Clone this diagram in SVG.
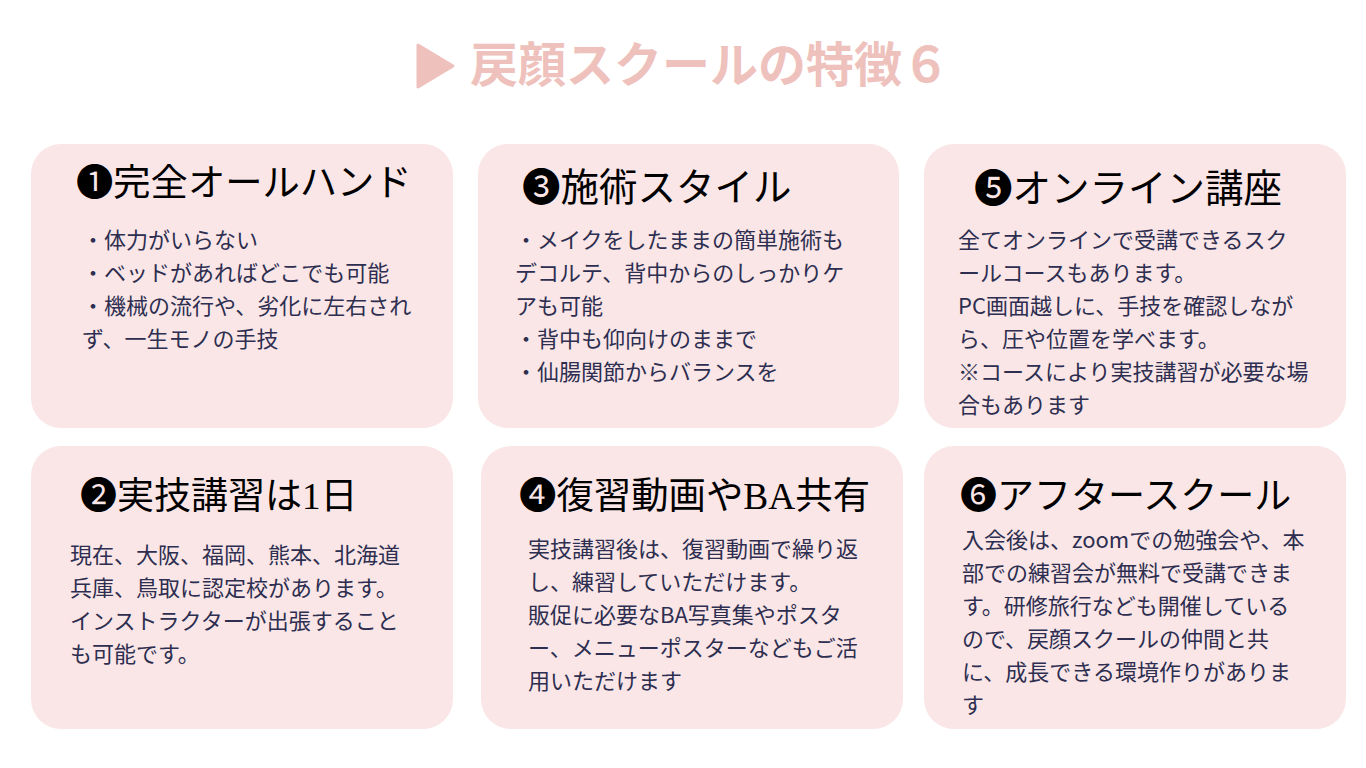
<svg xmlns="http://www.w3.org/2000/svg" width="1366" height="768" viewBox="0 0 1366 768">
<style>
.card{fill:#FAE6E7;}
.hd{font-family:"Liberation Serif","Noto Sans CJK JP",serif;font-size:37px;fill:#000000;}
.hd2{font-size:38.5px;}
.bd{font-family:"Noto Sans CJK JP","Noto Sans",sans-serif;font-size:22px;fill:#2D2E50;}
.ttl{font-family:"Noto Sans CJK JP",sans-serif;font-size:48px;font-weight:bold;fill:#EEC1BC;}
</style>
<rect width="1366" height="768" fill="#FFFFFF"/>
<g id="title">
<polygon points="418,45 453,66 418,87" fill="#EEC1BC" stroke="#EEC1BC" stroke-width="3" stroke-linejoin="round"/>
<text class="ttl" x="470" y="82">戻顔スクールの特徴６</text>
</g>
<g id="card1">
<rect class="card" x="31" y="144" width="422" height="284" rx="30"/>
<text class="hd" x="76" y="196" style="font-size:37.3px">❶完全オールハンド</text>
<text class="bd" x="82" y="248">・体力がいらない</text>
<text class="bd" x="82" y="281">・ベッドがあればどこでも可能</text>
<text class="bd" x="82" y="314">・機械の流行や、劣化に左右され</text>
<text class="bd" x="82" y="347">ず、一生モノの手技</text>
</g>
<g id="card3">
<rect class="card" x="478" y="144" width="421" height="284" rx="30"/>
<text class="hd hd2" x="522" y="201">❸施術スタイル</text>
<text class="bd" x="515" y="248">・メイクをしたままの簡単施術も</text>
<text class="bd" x="515" y="281">デコルテ、背中からのしっかりケ</text>
<text class="bd" x="515" y="314">アも可能</text>
<text class="bd" x="515" y="347">・背中も仰向けのままで</text>
<text class="bd" x="515" y="380">・仙腸関節からバランスを</text>
</g>
<g id="card5">
<rect class="card" x="924" y="144" width="422" height="284" rx="30"/>
<text class="hd hd2" x="974" y="202">❺オンライン講座</text>
<text class="bd" x="958" y="248">全てオンラインで受講できるスク</text>
<text class="bd" x="958" y="281">ールコースもあります。</text>
<text class="bd" x="958" y="314">PC画面越しに、手技を確認しなが</text>
<text class="bd" x="958" y="347">ら、圧や位置を学べます。</text>
<text class="bd" x="958" y="380">※コースにより実技講習が必要な場</text>
<text class="bd" x="958" y="413">合もあります</text>
</g>
<g id="card2">
<rect class="card" x="31" y="446" width="422" height="283" rx="30"/>
<text class="hd" x="80" y="509">❷実技講習は1日</text>
<text class="bd" x="70" y="563">現在、大阪、福岡、熊本、北海道</text>
<text class="bd" x="70" y="596">兵庫、鳥取に認定校があります。</text>
<text class="bd" x="70" y="629">インストラクターが出張すること</text>
<text class="bd" x="70" y="662">も可能です。</text>
</g>
<g id="card4">
<rect class="card" x="481" y="446" width="422" height="283" rx="30"/>
<text class="hd" x="519" y="509" style="font-size:37.4px">❹復習動画やBA共有</text>
<text class="bd" x="528" y="557">実技講習後は、復習動画で繰り返</text>
<text class="bd" x="528" y="590">し、練習していただけます。</text>
<text class="bd" x="528" y="623">販促に必要なBA写真集やポスタ</text>
<text class="bd" x="528" y="656">ー、メニューポスターなどもご活</text>
<text class="bd" x="528" y="689">用いただけます</text>
</g>
<g id="card6">
<rect class="card" x="924" y="446" width="422" height="283" rx="30"/>
<text class="hd" x="960" y="509">❻アフタースクール</text>
<text class="bd" x="962" y="548">入会後は、zoomでの勉強会や、本</text>
<text class="bd" x="962" y="581">部での練習会が無料で受講できま</text>
<text class="bd" x="962" y="614">す。研修旅行なども開催している</text>
<text class="bd" x="962" y="647">ので、戻顔スクールの仲間と共</text>
<text class="bd" x="962" y="680">に、成長できる環境作りがありま</text>
<text class="bd" x="962" y="713">す</text>
</g>
<g id="connectors"></g>
</svg>
